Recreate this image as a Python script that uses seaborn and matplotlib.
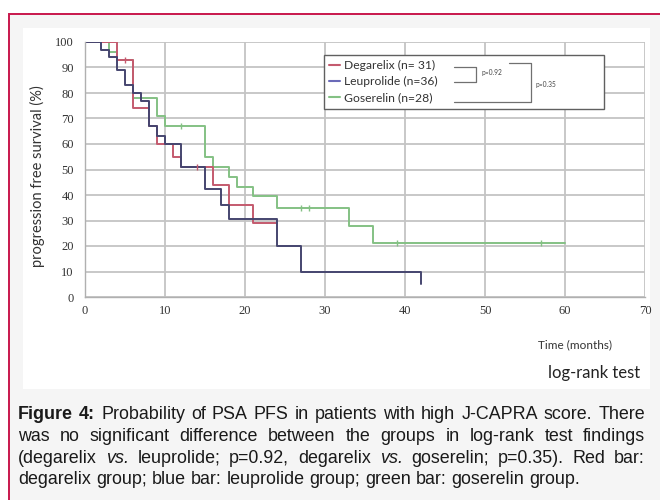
import matplotlib
matplotlib.use("Agg")
import matplotlib.pyplot as plt
import seaborn as sns
from matplotlib.patches import Rectangle
from matplotlib.lines import Line2D
from matplotlib import font_manager

# ---------------- data ----------------
groups = ["Degarelix (n= 31)", "Leuprolide (n=36)", "Goserelin (n=28)"]

deg_t = [0, 4, 6, 8, 9, 11, 12, 16, 18, 21, 24]
deg_s = [100, 93, 74, 67, 60, 55, 51, 44, 36, 29, 29]

leu_t = [0, 2, 3, 4, 5, 6, 7, 8, 9, 10, 12, 15, 17, 18, 24, 27, 42, 42]
leu_s = [100, 97, 94, 89, 83, 80, 77, 67, 63, 60, 51, 42.5, 36, 30.5, 20, 10, 10, 5]

gos_t = [0, 3, 4, 6, 9, 10, 15, 16, 18, 19, 21, 24, 33, 36, 60]
gos_s = [100, 96, 93, 78, 71, 67, 55, 51, 47, 43, 39.5, 35, 28, 21, 21]

deg_cens_t = [5, 14]
deg_cens_s = [93, 51]
gos_cens_t = [12, 27, 28, 39, 57]
gos_cens_s = [67, 35, 35, 21, 21]

x_ticks = [0, 10, 20, 30, 40, 50, 60, 70]
y_ticks = [0, 10, 20, 30, 40, 50, 60, 70, 80, 90, 100]

p_labels = ["p=0.92", "p=0.35"]

caption = [
    [("Figure", "b"), ("4:", "b"), ("Probability", "n"), ("of", "n"), ("PSA", "n"), ("PFS", "n"),
     ("in", "n"), ("patients", "n"), ("with", "n"), ("high", "n"), ("J-CAPRA", "n"), ("score.", "n"),
     ("There", "n")],
    [(w, "n") for w in "was no significant difference between the groups in log-rank test findings".split()],
    [("(degarelix", "n"), ("vs.", "i"), ("leuprolide;", "n"), ("p=0.92,", "n"), ("degarelix", "n"),
     ("vs.", "i"), ("goserelin;", "n"), ("p=0.35).", "n"), ("Red", "n"), ("bar:", "n")],
    [(w, "n") for w in "degarelix group; blue bar: leuprolide group; green bar: goserelin group.".split()],
]

# ---------------- style ----------------
sns.set_style("white")
plt.rcParams["font.family"] = ["Lato", "DejaVu Sans"]

names = {f.name for f in font_manager.fontManager.ttflist}
if "Liberation Sans Narrow" in names:
    cap_font, cap_size = ["Liberation Sans Narrow", "DejaVu Sans"], 14.0
else:
    cap_font, cap_size = ["Liberation Sans", "DejaVu Sans"], 12.9

W, H = 660, 500
fig = plt.figure(figsize=(6.6, 5.0), dpi=100, facecolor="white")


def fx(x):
    return x / W


def fy(y):
    return 1 - y / H


# background frame & panel
fig.add_artist(Rectangle((fx(9), fy(700)), fx(800), fy(14) - fy(700), transform=fig.transFigure,
                         facecolor="#f5f5f5", edgecolor="#c8174c", lw=1.4, zorder=-3))
fig.add_artist(Rectangle((fx(23), fy(389)), fx(650) - fx(23), fy(28) - fy(389), transform=fig.transFigure,
                         facecolor="white", edgecolor="none", zorder=-2))

ax = fig.add_axes([fx(85), fy(297), fx(645) - fx(85), fy(42) - fy(297)])
ax.set_facecolor("white")

c_red = "#c45a6e"
c_blue = "#45456f"
c_green = "#84c184"
c_leg_blue = "#6a6ab8"

sns.lineplot(x=gos_t, y=gos_s, drawstyle="steps-post", estimator=None, sort=False,
             color=c_green, lw=1.4, ax=ax, legend=False)
sns.lineplot(x=deg_t, y=deg_s, drawstyle="steps-post", estimator=None, sort=False,
             color=c_red, lw=1.4, ax=ax, legend=False)
sns.lineplot(x=leu_t, y=leu_s, drawstyle="steps-post", estimator=None, sort=False,
             color=c_blue, lw=1.4, ax=ax, legend=False)
ax.plot(deg_cens_t, deg_cens_s, ls="none", marker="|", ms=4, mew=1, color=c_red)
ax.plot(gos_cens_t, gos_cens_s, ls="none", marker="|", ms=4, mew=1, color=c_green)

ax.set_xlim(0, 70)
ax.set_ylim(0, 100)
ax.set_xticks(x_ticks)
ax.set_yticks(y_ticks)
ax.grid(True, color="#c4c4c4", lw=1.3)
ax.set_axisbelow(True)
for s in ["top", "right"]:
    ax.spines[s].set_visible(False)
ax.spines["left"].set_color("#b0b0b0")
ax.spines["bottom"].set_color("#b0b0b0")
ax.spines["left"].set_linewidth(1.0)
ax.spines["bottom"].set_linewidth(1.0)
ax.tick_params(axis="y", direction="out", length=6, width=1, color="#999999", pad=2,
               labelsize=9, labelcolor="#333333")
ax.tick_params(axis="x", direction="out", length=3, width=1, color="#999999", pad=3,
               labelsize=9, labelcolor="#333333")
for lab in ax.get_xticklabels() + ax.get_yticklabels():
    lab.set_fontfamily("Liberation Serif")
ax.set_xlabel("")
ax.set_ylabel("")

# legend box
handles = [Line2D([], [], color=c, lw=1.5) for c in [c_red, c_leg_blue, c_green]]
leg = ax.legend(handles, groups, loc="upper left",
                bbox_to_anchor=(fx(324), fy(111), fx(604) - fx(324), fy(55) - fy(111)),
                bbox_transform=fig.transFigure, mode="expand", borderaxespad=0,
                fontsize=8.7, handlelength=0.85, handletextpad=0.35, labelspacing=0.4,
                borderpad=0.45, frameon=True, fancybox=False)
leg.get_frame().set_edgecolor("#606060")
leg.get_frame().set_linewidth(1.0)
leg.get_frame().set_facecolor("white")
leg.get_frame().set_alpha(1)
for t in leg.get_texts():
    t.set_color("#333333")

# brackets
bc = "#707070"
fig.add_artist(Line2D([fx(454), fx(476), fx(476), fx(454)], [fy(67), fy(67), fy(82), fy(82)],
                      transform=fig.transFigure, color=bc, lw=0.9))
fig.add_artist(Line2D([fx(509), fx(531), fx(531), fx(454)], [fy(63), fy(63), fy(102), fy(102)],
                      transform=fig.transFigure, color=bc, lw=0.9))
fig.text(fx(481), fy(72), p_labels[0], fontsize=4.8, color="#444444", va="center", ha="left")
fig.text(fx(535), fy(84), p_labels[1], fontsize=4.8, color="#444444", va="center", ha="left")

# labels
fig.text(fx(37), fy(176), "progression free survival (%)", rotation=90, fontsize=10.5,
         color="#333333", ha="center", va="center")
fig.text(fx(575), fy(345), "Time (months)", fontsize=8.5, color="#333333", ha="center", va="center")
fig.text(fx(594), fy(373), "log-rank test", fontsize=12, color="#222222", ha="center", va="center")

# caption, justified
fig.canvas.draw()
r = fig.canvas.get_renderer()
left, right = 18, 645
baselines = [419, 441, 463, 484]
sp_t = fig.text(0, 0, "a a", fontsize=cap_size, family=cap_font)
sp_t2 = fig.text(0, 0, "aa", fontsize=cap_size, family=cap_font)
space = sp_t.get_window_extent(r).width - sp_t2.get_window_extent(r).width
sp_t.remove()
sp_t2.remove()
for li, (words, yb) in enumerate(zip(caption, baselines)):
    objs = []
    for w, st in words:
        t = fig.text(0, fy(yb), w, fontsize=cap_size, family=cap_font, color="#1a1a1a", va="baseline",
                     ha="left", fontweight="bold" if st == "b" else "normal",
                     fontstyle="italic" if st == "i" else "normal")
        objs.append(t)
    widths = [t.get_window_extent(r).width for t in objs]
    total = sum(widths)
    if li < len(caption) - 1:
        gap = max((right - left - total) / (len(objs) - 1), space * 0.6)
    else:
        gap = space
    x = left
    for t, wd in zip(objs, widths):
        t.set_x(fx(x))
        x += wd + gap

fig.savefig("out.png", dpi=100, facecolor="white")
